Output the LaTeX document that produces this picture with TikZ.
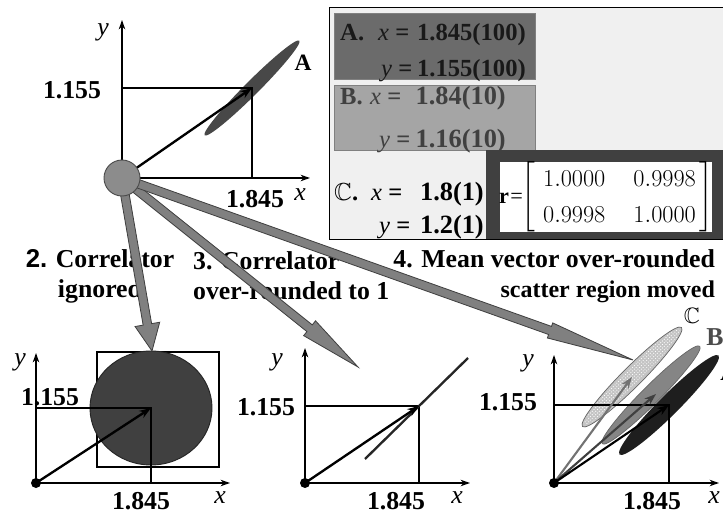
\documentclass[tikz,border=0pt]{standalone}
\usepackage{amsmath,amssymb}
\usepackage{fontspec}
\setmainfont{Liberation Serif}
\newfontfamily\sanslbl{Liberation Sans}
\usetikzlibrary{arrows.meta,calc,patterns}

\definecolor{panelbg}{HTML}{F0F0F0}
\definecolor{rowA}{HTML}{6B6B6B}
\definecolor{rowB}{HTML}{A5A5A5}
\definecolor{matbg}{HTML}{404040}
\definecolor{fatgray}{HTML}{808080}
\definecolor{srcgray}{HTML}{8C8C8C}
\definecolor{scatA}{HTML}{484848}
\definecolor{bigdisc}{HTML}{404040}
\definecolor{scatB}{HTML}{858585}
\definecolor{scatC}{HTML}{C4C4C4}
\definecolor{scatAA}{HTML}{1E1E1E}

% broad grey arrow: from, to, head length, head half width (pixels)
\newcommand\fatarrow[4]{%
  \path let \p1=($(#2)-(#1)$) in \pgfextra{%
    \pgfmathsetmacro\fatang{atan2(\y1,\x1)}\global\let\fatang\fatang
    \pgfmathsetmacro\fatlen{veclen(\x1,\y1)/0.853584}\global\let\fatlen\fatlen};
  \draw[fatarr, shift={(#1)}, rotate=\fatang]
    (0,-4.3) -- (\fatlen-#3,-4.3) -- (\fatlen-#3,-#4) -- (\fatlen,0)
    -- (\fatlen-#3,#4) -- (\fatlen-#3,4.3) -- (0,4.3) -- cycle;
}

\tikzset{
  axis/.style={line width=1.4pt, -{Stealth[length=8pt,width=5.5pt]}},
  refline/.style={line width=1.1pt},
  meanvec/.style={line width=2pt, -{Stealth[length=10pt,width=7pt]}},
  fatarr/.style={fill=fatgray, draw=black!75, line width=0.7pt},
  num/.style={font=\fontsize{22}{26}\selectfont\bfseries, inner sep=1pt},
  axname/.style={font=\fontsize{22}{26}\selectfont\itshape, inner sep=1pt},
  caption/.style={font=\fontsize{22}{25.6}\selectfont\bfseries},
  rowtxt/.style={font=\fontsize{21}{25}\selectfont\bfseries, inner sep=0pt},
  rowbig/.style={font=\fontsize{22.5}{26}\selectfont\bfseries, inner sep=0pt},
  srcdot/.style={circle, fill=srcgray, draw=black!70, line width=0.8pt, minimum size=1.08cm, inner sep=0pt},
  origin/.style={circle, fill=black, minimum size=0.3cm, inner sep=0pt},
}

\begin{document}
\begin{tikzpicture}[x=0.03cm, y=-0.03cm]
\useasboundingbox (0,0) rectangle (723,515);

% table of rounded values
\draw[fill=panelbg, line width=0.8pt] (329,7) rectangle (726,239);
\draw[fill=rowA, draw=black!50] (334,13) rectangle (535,79);
\draw[fill=rowB, draw=black!50] (334,85) rectangle (535,150);
\fill[matbg] (486,150) rectangle (726,239);
\fill[white] (500,162) rectangle (712,232);

\node[rowtxt, anchor=base west, text=black!90] (rA) at (340,41) {A.};
\node[rowtxt, anchor=base west, text=black!90] (rAx) at (378,41) {{\mdseries\itshape x} =};
\node[rowtxt, anchor=base east, text=black!90] (rAxv) at (526,41) {1.845(100)};
\node[rowtxt, anchor=base west, text=black!90] (rAy) at (381,77) {{\mdseries\itshape y} =};
\node[rowtxt, anchor=base east, text=black!90] (rAyv) at (526,77) {1.155(100)};

\node[rowtxt, anchor=base west, text=black!75] (rB) at (340,105) {B.};
\node[rowtxt, anchor=base west, text=black!75] (rBx) at (370,105) {{\mdseries\itshape x} =};
\node[rowbig, anchor=base east, text=black!75] (rBxv) at (506,105) {1.84(10)};
\node[rowtxt, anchor=base west, text=black!75] (rBy) at (379,148) {{\mdseries\itshape y} =};
\node[rowbig, anchor=base east, text=black!75] (rByv) at (506,148) {1.16(10)};

\node[rowtxt, anchor=base west] (rC) at (334,201) {$\mathbb{C}$.};
\node[rowtxt, anchor=base west] (rCx) at (371,201) {{\mdseries\itshape x} =};
\node[rowbig, anchor=base east] (rCxv) at (484,201) {1.8(1)};
\node[rowtxt, anchor=base west] (rCy) at (379,234) {{\mdseries\itshape y} =};
\node[rowbig, anchor=base east] (rCyv) at (484,234) {1.2(1)};

\node[font=\fontsize{19}{22}\selectfont, inner sep=0pt] (rname) at (511,198) {\textbf{r}\kern1pt=};
\node[font=\fontsize{20}{24}\selectfont, inner sep=0pt, anchor=west] (rmat) at (521,197)
  {\def\arraystretch{1.3}$\left[\begin{array}{@{\hspace{7pt}}c@{\hspace{24pt}}c@{\hspace{3pt}}}
   1.0000 & 0.9998\\ 0.9998 & 1.0000\end{array}\right]$};

% full correlated result
\coordinate (src) at (122,178);
\coordinate (ytop1) at (122,20);
\coordinate (xend1) at (310,178);
\coordinate (mean1) at (252,88);
\fill[scatA, rotate around={45:(mean1)}] (mean1) ellipse[x radius=67, y radius=7];
\draw[refline] (mean1 -| src) -- (mean1) -- (mean1 |- src);
\draw[axis] (src) -- (ytop1);
\draw[axis] (src) -- (xend1);
\draw[meanvec] (src) -- (mean1);
\node[axname] (y1) at (103,32) {y};
\node[axname] (x1) at (300,195) {x};
\node[num] (v1y) at (72,90) {1.155};
\node[num] (v1x) at (255,199) {1.845};
\node[num, font=\fontsize{20}{24}\selectfont\bfseries] (lA) at (303,63) {A};

% captions
\node[caption, align=center] (cap2) at (100,276) {{\sanslbl 2.} Correlator\\ignored};
\node[caption, align=left, anchor=west] (cap3) at (189,276) {3. Correlator\\over-rounded to 1};
\node[caption, align=right, anchor=east] (cap4) at (719,276)
  {4. Mean vector over-rounded\\{\fontsize{20.5}{25.6}\selectfont scatter region moved}};

% panel 2: correlator ignored
\coordinate (o2) at (36,483);
\coordinate (ytop2) at (36,353);
\coordinate (xend2) at (230,483);
\coordinate (mean2) at (151,408);
\draw[line width=1.1pt] (97,352) rectangle (219,467);
\draw[fill=bigdisc, draw=black!85, line width=0.8pt] (mean2) ellipse[x radius=61, y radius=57];
\draw[refline] (mean2 -| o2) -- (mean2) -- (mean2 |- o2);
\draw[axis] (o2) -- (ytop2);
\draw[axis] (o2) -- (xend2);
\draw[meanvec] (o2) -- (mean2);
\node[origin] (d2) at (o2) {};
\node[axname] (y2) at (20,362) {y};
\node[axname] (x2) at (220,498) {x};
\node[num] (v2y) at (50,397) {1.155};
\node[num] (v2x) at (141,501) {1.845};

% panel 3: correlator over-rounded
\coordinate (o3) at (305,483);
\coordinate (ytop3) at (305,348);
\coordinate (xend3) at (470,483);
\coordinate (mean3) at (419,406);
\coordinate (line3a) at (365,459);
\coordinate (line3b) at (468,358);
\draw[refline] (mean3 -| o3) -- (mean3) -- (mean3 |- o3);
\draw[line width=2pt, black!85] (line3a) -- (line3b);
\draw[axis] (o3) -- (ytop3);
\draw[axis] (o3) -- (xend3);
\draw[meanvec] (o3) -- (mean3);
\node[origin] (d3) at (o3) {};
\node[axname] (y3) at (277,362) {y};
\node[axname] (x3) at (457,498) {x};
\node[num] (v3y) at (266,407) {1.155};
\node[num] (v3x) at (396,501) {1.845};

% panel 4: mean vector over-rounded
\coordinate (o4) at (554,483);
\coordinate (ytop4) at (554,355);
\coordinate (xend4) at (719,483);
\coordinate (mean4) at (669,405);
\coordinate (meanB) at (651,395);
\coordinate (meanC) at (632,377);
\coordinate (tipB) at (656,394);
\draw[fill=scatC, draw=black!60, line width=0.6pt, rotate around={45:(meanC)}] (meanC) ellipse[x radius=70, y radius=10];
\fill[pattern=crosshatch dots, pattern color=white, rotate around={45:(meanC)}] (meanC) ellipse[x radius=68, y radius=8];
\draw[fill=scatB, draw=black!60, line width=0.6pt, rotate around={45:(meanB)}] (meanB) ellipse[x radius=69, y radius=9];
\fill[scatAA, rotate around={45:(mean4)}] (mean4) ellipse[x radius=70, y radius=10];
\draw[refline] (mean4 -| o4) -- (mean4) -- (mean4 |- o4);
\draw[axis] (o4) -- (ytop4);
\draw[axis] (o4) -- (xend4);
\draw[meanvec, line width=1.8pt, black!55] (o4) -- (meanC);
\draw[meanvec, line width=1.8pt, black!75] (o4) -- (tipB);
\draw[meanvec, line width=1.8pt] (o4) -- (mean4);
\node[origin] (d4) at (o4) {};
\node[axname] (y4) at (528,363) {y};
\node[axname] (x4) at (714,498) {x};
\node[num] (v4y) at (508,402) {1.155};
\node[num] (v4x) at (652,501) {1.845};
\node[font=\fontsize{19}{22}\selectfont, inner sep=1pt] (lC4) at (692,316) {$\mathbb{C}$};
\node[num, text=black!70] (lB4) at (715,337) {B};
\node[num, anchor=west] (lA4) at (719,372) {A};

% broad arrows to the three rounding cases
\coordinate (tip2) at (152,351);
\coordinate (tip3) at (358,367);
\coordinate (tip4) at (633,360);
\fatarrow{src}{tip2}{27}{12.5}
\fatarrow{src}{tip3}{62}{9.5}
\fatarrow{src}{tip4}{88}{8}
\node[srcdot] (srcc) at (src) {};
\end{tikzpicture}
\end{document}
